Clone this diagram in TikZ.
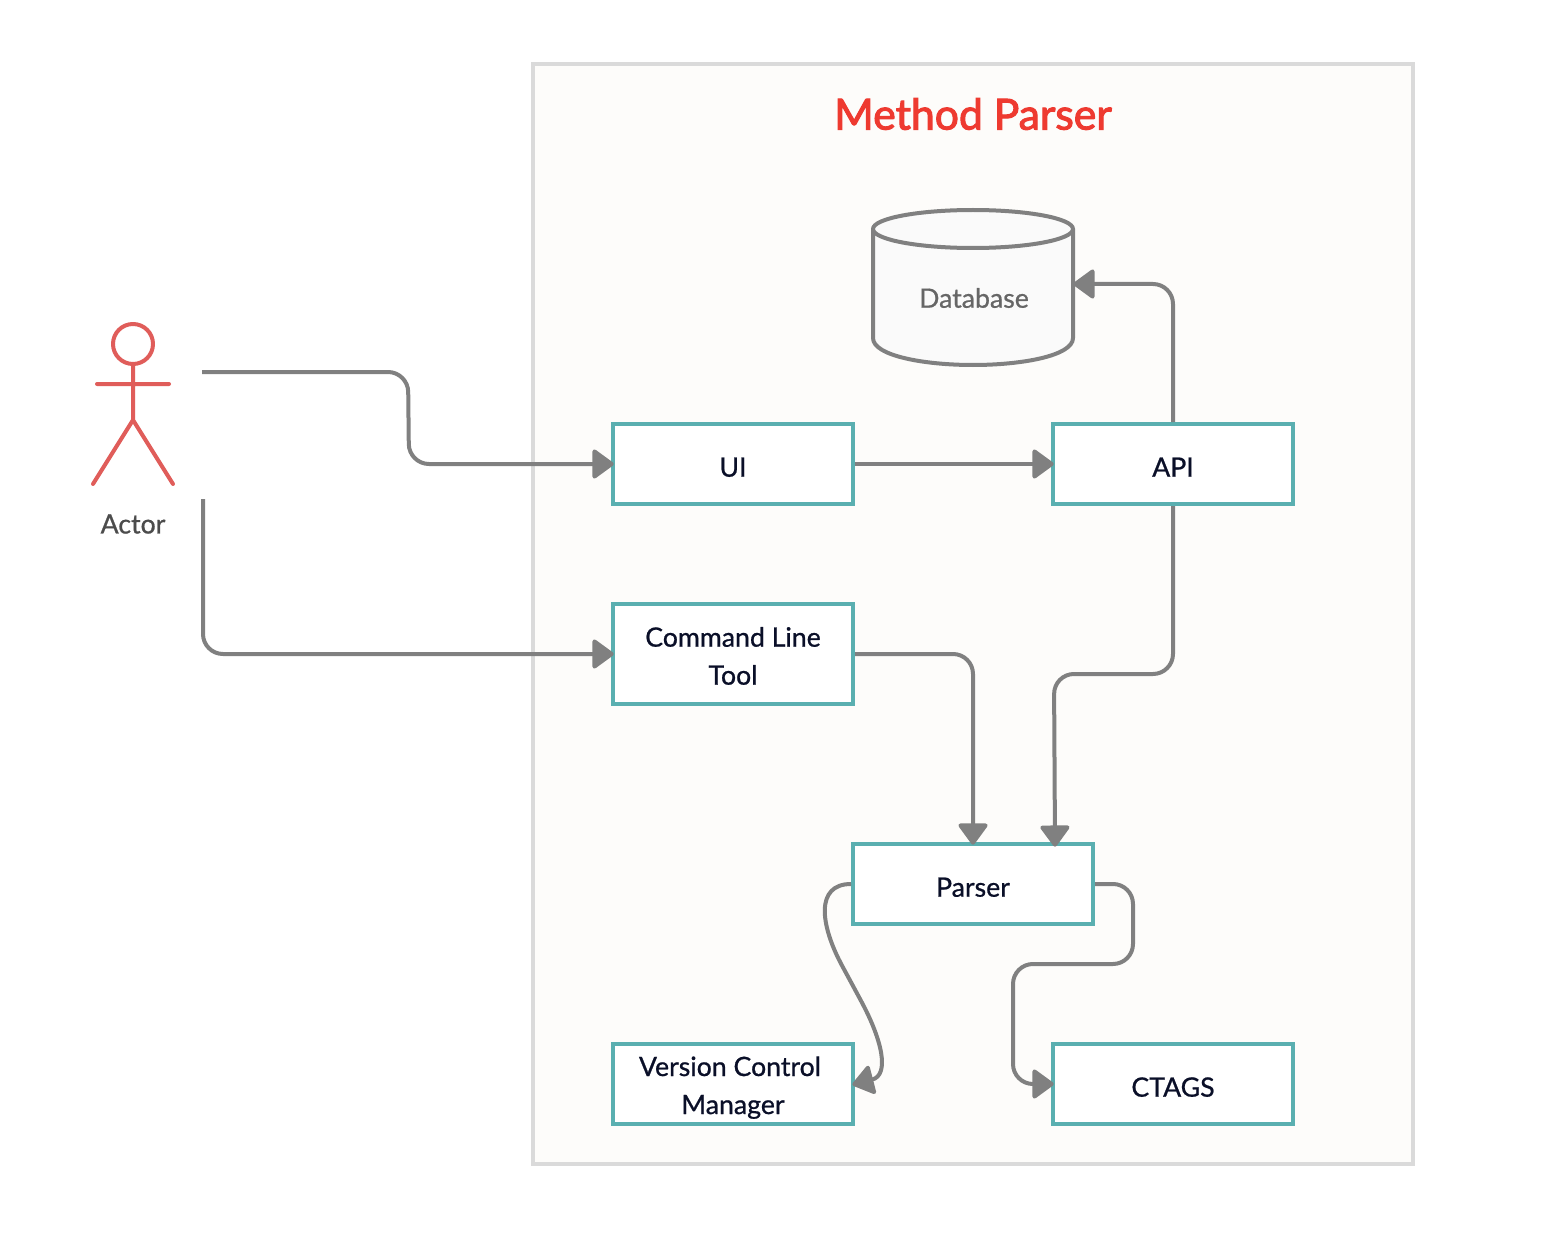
\documentclass[tikz,border=0pt]{standalone}
\usepackage{fontspec}
\setmainfont{Lato}
\newfontfamily\titlefont[FakeBold=2.5]{Lato}
\newfontfamily\bodyfont[FakeBold=0.8]{Lato}
\usetikzlibrary{arrows.meta}
\definecolor{framegray}{HTML}{DADADA}
\definecolor{framefill}{HTML}{FDFCFA}
\definecolor{boxteal}{HTML}{5AAFB0}
\definecolor{linegray}{HTML}{808080}
\definecolor{actorred}{HTML}{E05D5A}
\definecolor{titlered}{HTML}{EE3A30}
\definecolor{boxtext}{HTML}{0A0F28}
\tikzset{
    part/.style = {draw = boxteal, line width = 3pt, fill = white, text = boxtext,
        minimum width = 180pt, minimum height = 60pt, inner sep = 0pt, align = center,
        text height = 19pt, text depth = 0pt, font = \bodyfont\fontsize{20}{28.5}\selectfont},
    flow/.style = {draw = linegray, line width = 3pt, rounded corners = 15pt, shorten > = -2pt,
        -{Triangle[length = 17pt, width = 24pt, round]}},
    figure/.style = {draw = actorred, line width = 3pt, line cap = round, line join = round},
}
\begin{document}
\begin{tikzpicture}[x = 0.75pt, y = -0.75pt]
    \useasboundingbox (0, 0) rectangle (1546, 1248);
    \fill [white] (0, 0) rectangle (1546, 1248);

    \draw [draw = framegray, fill = framefill, line width = 3pt] (533, 64) rectangle (1413, 1164);
    \node (title) [text = titlered, font = \titlefont\fontsize{32}{36}\selectfont] at (973, 114) {Method Parser};

    % actor
    \draw [figure] (133, 344) circle [radius = 20]
        (133, 364) -- (133, 420)
        (97, 384) -- (169, 384)
        (93, 484) -- (133, 420) -- (173, 484);
    \node (actor) [text = black!70, font = \bodyfont\fontsize{20}{24}\selectfont] at (133, 524) {Actor};

    % database
    \draw [draw = linegray, fill = black!2, line width = 3pt]
        (873, 229) -- (873, 338)
        .. controls (873, 356) and (925, 365) .. (973, 365)
        .. controls (1021, 365) and (1073, 356) .. (1073, 338)
        -- (1073, 229)
        (873, 229) arc [start angle = 180, end angle = -180, x radius = 100, y radius = 19];
    \node (database) [text = black!60, font = \bodyfont\fontsize{20}{24}\selectfont] at (974, 298) {Database};

    \node (ui) [part] at (733, 464) {UI};
    \node (api) [part] at (1173, 464) {API};
    \node (cli) [part, minimum height = 75pt, text height = 46pt] at (733, 654) {Command Line\\Tool};
    \node (parser) [part] at (973, 884) {Parser};
    \node (vcm) [part, text height = 45pt] at (733, 1084) {\mbox{Version Control\hspace{4.5pt}}\\Manager};
    \node (ctags) [part] at (1173, 1084) {CTAGS};

    \coordinate (actorTop) at (202, 372);
    \coordinate (actorLow) at (203, 499);
    \coordinate (dbPort) at (1076, 284);
    \coordinate (parserPort) at (1055, 844);

    \draw [flow] (actorTop) -- (408, 372) -- (409, 464) -- (ui.west);
    \draw [flow] (actorLow) -- (203, 654) -- (cli.west);
    \draw [flow] (ui.east) -- (api.west);
    \draw [flow] (api.north) -- (1173, 284) -- (dbPort);
    \draw [flow] (api.south) -- (1173, 674) -- (1054, 674) -- (parserPort);
    \draw [flow] (cli.east) -- (973, 654) -- (parser.north);
    \draw [flow] (parser.east) -- (1133, 884) -- (1133, 964) -- (1013, 964) -- (1013, 1084) -- (ctags.west);
    \draw [flow] (parser.west) .. controls (815, 884) and (820, 925) .. (852, 984)
        .. controls (882, 1040) and (890, 1075) .. (vcm.east);
\end{tikzpicture}
\end{document}
